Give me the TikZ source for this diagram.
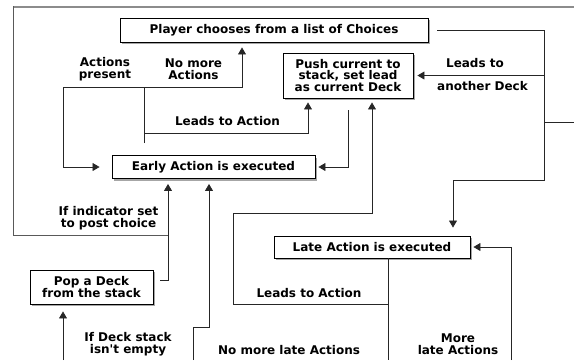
\documentclass[tikz,border=0pt]{standalone}
\usepackage{fontspec}
\setmainfont{DejaVu Sans}
\usetikzlibrary{arrows.meta, shadows}
\newcommand{\flowfont}{\fontsize{12}{11.6}\selectfont\bfseries}

\begin{document}
\begin{tikzpicture}[x=1pt, y=-1pt,
  box/.style={draw=black, line width=0.9pt, fill=white, font=\flowfont, inner sep=0pt, align=center,
    drop shadow={shadow xshift=2pt, shadow yshift=-2pt, fill=black, opacity=0.35}},
  lbl/.style={font=\flowfont, align=center, inner sep=0pt},
  wire/.style={draw=black!85, line width=0.8pt},
  feed/.style={wire, -{Triangle[length=7pt, width=8pt]}}]

  \useasboundingbox (0,0) rectangle (574,360);

  % boxes
  \node[box, minimum width=308pt, minimum height=24pt] (choice) at (274,30) {Player chooses from a list of Choices};
  \node[box, minimum width=130pt, minimum height=45pt] (push) at (348,75.5) {Push current to\\stack, set lead\\as current Deck};
  \node[box, minimum width=203pt, minimum height=23pt] (early) at (213.5,167) {Early Action is executed};
  \node[box, minimum width=196pt, minimum height=22pt] (late) at (372,247) {Late Action is executed};
  \node[box, minimum width=123pt, minimum height=34pt] (pop) at (91.5,287) {Pop a Deck\\from the stack};

  % bends and free ends
  \coordinate (jR) at (544,180);
  \coordinate (lateIn) at (453,180);
  \coordinate (offR) at (574,122);
  \coordinate (jM) at (144,87);
  \coordinate (jMb) at (144,143);
  \coordinate (jA) at (242,87);
  \coordinate (jL) at (63,87);
  \coordinate (jLead) at (144,133);
  \coordinate (pushInL) at (308,133);
  \coordinate (popOut) at (168,280);
  \coordinate (lowA) at (193,360);
  \coordinate (lowAb) at (209,327);
  \coordinate (lowB) at (63,360);
  \coordinate (lowC) at (388,360);
  \coordinate (laA) at (388,304);
  \coordinate (laB) at (233,213);
  \coordinate (laC) at (372,213);
  \coordinate (lowD) at (511,360);

  % outer frame
  \draw[draw=black!45, line width=2pt] (13,7) -- (574,7);
  \draw[wire, draw=black!65] (13,6) -- (13,235) -- (168,235);

  % connectors
  \draw[wire, shorten <=9pt] (choice.east) -| (jR) -- (lateIn);
  \draw[feed, shorten >=8pt] (lateIn) -- (lateIn |- late.north);
  \draw[feed, shorten >=4pt] (jR |- push.east) -- (push.east);
  \draw[wire] (jR |- offR) -- (offR);

  \draw[wire] (jMb) -- (jM);
  \draw[feed, shorten >=5pt] (jM) -- (jA) -- (jA |- choice.south);
  \draw[feed, shorten >=12pt] (jM) -- (jL) |- (early.west);
  \draw[feed, shorten >=4pt] (jLead) -- (pushInL) -- (pushInL |- push.south);
  \draw[feed, shorten <=12pt, shorten >=3pt] (push.south) |- (early.east);

  \draw[feed, shorten <=7pt, shorten >=5pt] (pop.east |- popOut) -- (popOut) -- (popOut |- early.south);
  \draw[feed, shorten >=5pt] (lowA) |- (lowAb) -- (lowAb |- early.south);
  \draw[feed, shorten >=7pt] (lowB) -- (lowB |- pop.south);

  \draw[wire] (lowC |- late.south) -- (lowC);
  \draw[feed, shorten >=4pt] (laA) -| (laB) -| (push.south -| laC);
  \draw[feed, shorten >=3pt] (lowD) |- (late.east);

  % labels
  \node[lbl] (tPresent) at (105,69) {Actions\\present};
  \node[lbl] (tNoMore) at (193.5,69) {No more\\Actions};
  \node[lbl] (tLeadsUp) at (227.5,121) {Leads to Action};
  \node[lbl] (tLeadsTo) at (475,63) {Leads to};
  \node[lbl] (tAnother) at (482.5,86) {another Deck};
  \node[lbl] (tIndicator) at (108.5,218) {If indicator set\\to post choice};
  \node[lbl] (tLeadsLow) at (309,293) {Leads to Action};
  \node[lbl] (tStack) at (128,344) {If Deck stack\\isn\textquotesingle t empty};
  \node[lbl] (tNoLate) at (289,350) {No more late Actions};
  \node[lbl] (tMoreLate) at (458,344) {More\\late Actions};

\end{tikzpicture}
\end{document}
